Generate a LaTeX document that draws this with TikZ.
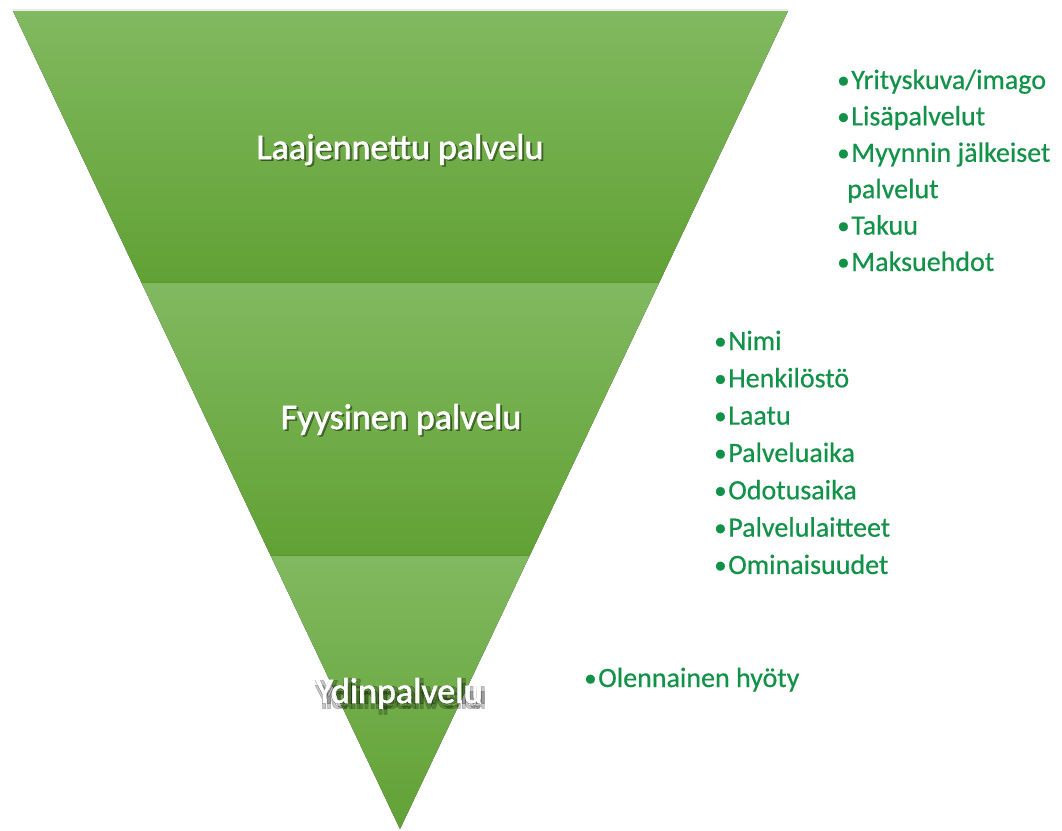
\documentclass[tikz,border=0pt]{standalone}
\usepackage{fontspec}
\setmainfont{Carlito}
\newfontfamily\lblfont[FakeBold=1.6]{Carlito}
\newfontfamily\itemfont[FakeBold=0.5]{Carlito}
\usetikzlibrary{calc}
\definecolor{gtop}{RGB}{129,185,96}
\definecolor{gbot}{RGB}{97,161,52}
\definecolor{gline}{RGB}{88,150,46}
\definecolor{txtgreen}{RGB}{18,146,72}
\newcommand{\blt}{\raisebox{0.8pt}{\fontsize{25}{25}\selectfont •}\hspace{1.6pt}}
\begin{document}
\begin{tikzpicture}[x=1pt,y=-1pt,
  lbl/.style={font=\lblfont\fontsize{36}{43}\selectfont, text=white, inner sep=0pt, anchor=base},
  lblshadow/.style={lbl, text=black, text opacity=0.35},
  halo/.style={lbl, text=black, text opacity=0.22},
  item/.style={font=\itemfont\fontsize{28}{34}\selectfont, text=txtgreen, inner sep=0pt, anchor=base west},
  band/.style={top color=gtop, bottom color=gbot}]
\useasboundingbox (0,0) rectangle (1062,830);
\coordinate (TL) at (13,11);
\coordinate (TR) at (788,11);
\coordinate (AP) at (400,829);
\coordinate (L1) at ($(TL)!0.33252!(AP)$);
\coordinate (R1) at ($(TR)!0.33252!(AP)$);
\coordinate (L2) at ($(TL)!0.66626!(AP)$);
\coordinate (R2) at ($(TR)!0.66626!(AP)$);
% soft shadow of the funnel
\foreach \dx/\dy in {-4/3,4/3,-3/2,3/2,-2/1.5,2/1.5,0/4,-1/0.5,1/0.5}{
  \fill[black, opacity=0.13, shift={(\dx,\dy)}] (TL) -- (TR) -- (AP) -- cycle;
}
\fill[black, opacity=0.08] (13,9) rectangle (788,11);
% funnel bands
\shade[band] (TL) -- (TR) -- (R1) -- (L1) -- cycle;
\shade[band] (L1) -- (R1) -- (R2) -- (L2) -- cycle;
\shade[band] (L2) -- (R2) -- (AP) -- cycle;
\draw[gline, line width=1pt] ($(L1)+(0,-0.5)$) -- ($(R1)+(0,-0.5)$);
\draw[gline, line width=1pt] ($(L2)+(0,-0.5)$) -- ($(R2)+(0,-0.5)$);
% band labels
\node[lblshadow] (laajS) at (402,160.5) {Laajennettu palvelu};
\node[lbl] (laaj) at (400,159) {Laajennettu palvelu};
\node[lblshadow] (fyysS) at (403,430.5) {Fyysinen palvelu};
\node[lbl] (fyys) at (401,429) {Fyysinen palvelu};
\foreach \a [count=\k] in {45,135,225,315}{
  \node[halo] (ydinH\k) at ($(401,706)+(\a:3.5)$) {Ydinpalvelu};
}
\node[lbl] (ydin) at (399,703) {Ydinpalvelu};
% list 1
\foreach \t [count=\i from 0] in {{Yrityskuva/imago},{Lisäpalvelut},{Myynnin jälkeiset}}{
  \node[item] (a\i) at (837,{89+36.4*\i}) {\blt\t};
}
\node[item] (a3) at (847,{89+36.4*3}) {palvelut};
\foreach \t [count=\i from 4] in {{Takuu},{Maksuehdot}}{
  \node[item] (a\i) at (837,{89+36.4*\i}) {\blt\t};
}
% list 2
\foreach \t [count=\i from 0] in {{Nimi},{Henkilöstö},{Laatu},{Palveluaika},{Odotusaika},{Palvelulaitteet},{Ominaisuudet}}{
  \node[item] (b\i) at (714,{350+37.33*\i}) {\blt\t};
}
% list 3
\node[item] (c0) at (584,687) {\blt Olennainen hyöty};
\end{tikzpicture}
\end{document}
